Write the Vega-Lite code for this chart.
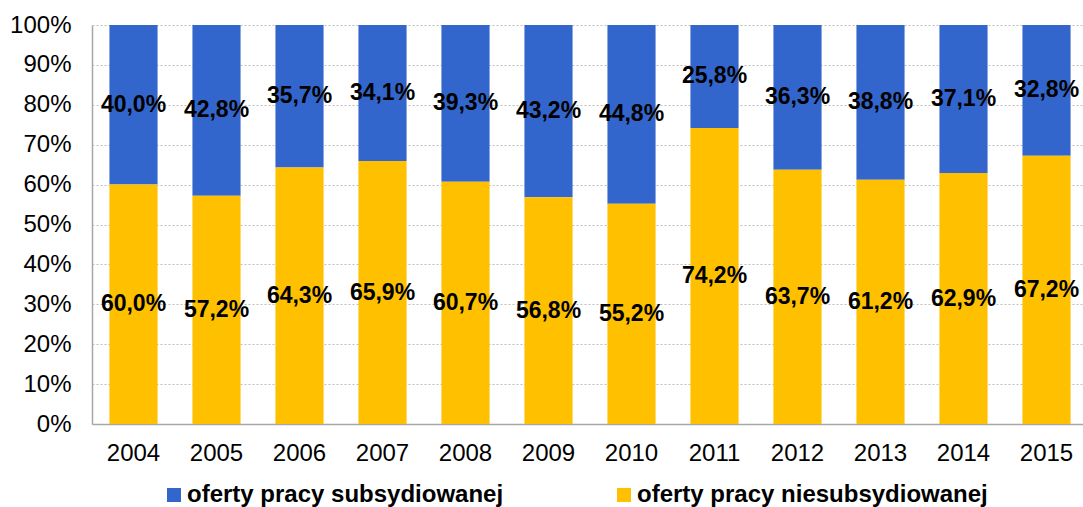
{
  "$schema": "https://vega.github.io/schema/vega-lite/v6.json",
  "width": 996,
  "height": 399,
  "autosize": {"type": "none"},
  "padding": {"left": 92, "top": 25, "right": 0, "bottom": 83},
  "background": "white",
  "config": {
    "font": "Liberation Sans",
    "view": {"stroke": null},
    "axisY": {"labelOverlap": false, "labelBound": false, "labelFlush": false},
    "locale": {"number": {"decimal": ",", "thousands": " ", "grouping": [3], "currency": ["", " zł"]}}
  },
  "data": {
    "values": [
      {"year": "2004", "series": "oferty pracy subsydiowanej", "share": 0.400},
      {"year": "2004", "series": "oferty pracy niesubsydiowanej", "share": 0.600},
      {"year": "2005", "series": "oferty pracy subsydiowanej", "share": 0.428},
      {"year": "2005", "series": "oferty pracy niesubsydiowanej", "share": 0.572},
      {"year": "2006", "series": "oferty pracy subsydiowanej", "share": 0.357},
      {"year": "2006", "series": "oferty pracy niesubsydiowanej", "share": 0.643},
      {"year": "2007", "series": "oferty pracy subsydiowanej", "share": 0.341},
      {"year": "2007", "series": "oferty pracy niesubsydiowanej", "share": 0.659},
      {"year": "2008", "series": "oferty pracy subsydiowanej", "share": 0.393},
      {"year": "2008", "series": "oferty pracy niesubsydiowanej", "share": 0.607},
      {"year": "2009", "series": "oferty pracy subsydiowanej", "share": 0.432},
      {"year": "2009", "series": "oferty pracy niesubsydiowanej", "share": 0.568},
      {"year": "2010", "series": "oferty pracy subsydiowanej", "share": 0.448},
      {"year": "2010", "series": "oferty pracy niesubsydiowanej", "share": 0.552},
      {"year": "2011", "series": "oferty pracy subsydiowanej", "share": 0.258},
      {"year": "2011", "series": "oferty pracy niesubsydiowanej", "share": 0.742},
      {"year": "2012", "series": "oferty pracy subsydiowanej", "share": 0.363},
      {"year": "2012", "series": "oferty pracy niesubsydiowanej", "share": 0.637},
      {"year": "2013", "series": "oferty pracy subsydiowanej", "share": 0.388},
      {"year": "2013", "series": "oferty pracy niesubsydiowanej", "share": 0.612},
      {"year": "2014", "series": "oferty pracy subsydiowanej", "share": 0.371},
      {"year": "2014", "series": "oferty pracy niesubsydiowanej", "share": 0.629},
      {"year": "2015", "series": "oferty pracy subsydiowanej", "share": 0.328},
      {"year": "2015", "series": "oferty pracy niesubsydiowanej", "share": 0.672}
    ]
  },
  "transform": [
    {"stack": "share", "groupby": ["year"], "sort": [{"field": "series", "order": "ascending"}], "as": ["y0", "y1"], "offset": "normalize"},
    {"calculate": "(datum.y0 + datum.y1) / 2", "as": "mid"}
  ],
  "encoding": {
    "x": {
      "field": "year", "type": "nominal", "title": null,
      "scale": {"paddingInner": 0.42, "paddingOuter": 0.21},
      "axis": {
        "labelAngle": 0, "labelFontSize": 24, "labelColor": "#000000", "labelPadding": 17,
        "ticks": false, "domainColor": "#A6A6A6", "domainWidth": 1.5, "grid": false, "labelOverlap": false
      }
    }
  },
  "layer": [
    {
      "mark": {"type": "bar"},
      "encoding": {
        "y": {
          "field": "y1", "type": "quantitative", "title": null,
          "scale": {"domain": [0, 1], "nice": false},
          "axis": {
            "values": [0, 0.1, 0.2, 0.3, 0.4, 0.5, 0.6, 0.7, 0.8, 0.9, 1],
            "format": ".0%", "labelFontSize": 24, "labelColor": "#000000", "labelPadding": 21,
            "labelOverlap": false, "labelBound": false, "labelFlush": false,
            "ticks": false, "domainColor": "#A6A6A6", "domainWidth": 1.5,
            "gridColor": "#BFBFBF", "gridDash": [2, 2], "gridWidth": 1
          }
        },
        "y2": {"field": "y0"},
        "color": {
          "field": "series", "type": "nominal", "title": null,
          "scale": {"domain": ["oferty pracy subsydiowanej", "oferty pracy niesubsydiowanej"], "range": ["#3366CC", "#FFC000"]},
          "legend": {
            "orient": "none", "legendX": 70, "legendY": 458, "direction": "horizontal", "columns": 2,
            "padding": 0, "columnPadding": 108, "symbolType": "square", "symbolSize": 196,
            "symbolStrokeWidth": 0, "symbolOpacity": 1, "labelFontSize": 24, "labelFontWeight": "bold",
            "labelColor": "#000000", "labelOffset": 1, "labelLimit": 500
          }
        }
      }
    },
    {
      "mark": {"type": "text", "fontSize": 23, "fontWeight": "bold", "color": "#000000", "baseline": "middle", "align": "center"},
      "encoding": {
        "y": {
          "field": "mid", "type": "quantitative",
          "axis": {
            "values": [0, 0.1, 0.2, 0.3, 0.4, 0.5, 0.6, 0.7, 0.8, 0.9, 1],
            "format": ".0%", "labelFontSize": 24, "labelColor": "#000000", "labelPadding": 21,
            "labelOverlap": false, "labelBound": false, "labelFlush": false,
            "ticks": false, "domainColor": "#A6A6A6", "domainWidth": 1.5,
            "gridColor": "#BFBFBF", "gridDash": [2, 2], "gridWidth": 1
          }
        },
        "text": {"field": "share", "type": "quantitative", "format": ".1%"}
      }
    }
  ]
}
